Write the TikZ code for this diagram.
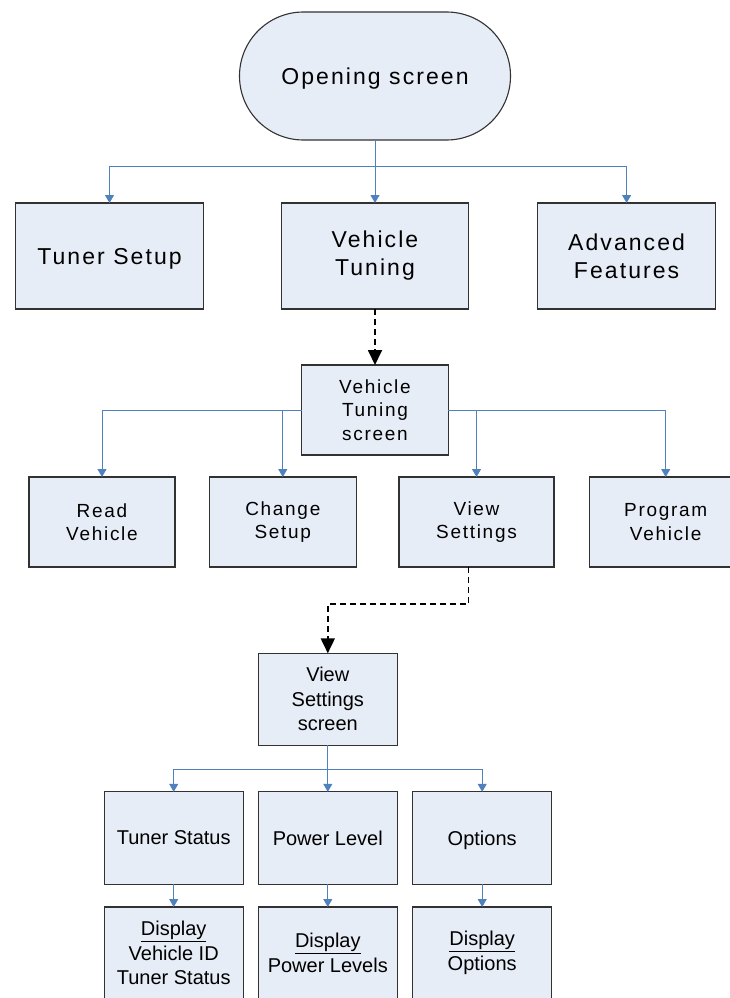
\documentclass[tikz,border=0pt]{standalone}
\usepackage{fontspec}
\setmainfont{Liberation Sans}
\newfontfamily\spaced[LetterSpace=9]{Liberation Sans}
\usetikzlibrary{arrows.meta}
\definecolor{boxfill}{RGB}{231,237,247}
\definecolor{conn}{RGB}{79,129,189}
\definecolor{edge}{RGB}{50,50,50}
\begin{document}
\begin{tikzpicture}[x=1pt,y=-1pt,
 box/.style={draw=edge,line width=1.1pt,fill=boxfill,align=center,inner sep=0pt,outer sep=0pt},
 oneline/.style={text depth=0pt},
 big/.style={font=\spaced\fontsize{23}{28}\selectfont},
 mid/.style={font=\spaced\fontsize{19}{23.3}\selectfont},
 small/.style={font=\fontsize{20}{24.5}\selectfont},
 link/.style={draw=conn,line width=0.9pt,-{Triangle[width=9pt,length=8pt]}},
 jump/.style={draw=black,line width=1.8pt,dash pattern=on 6pt off 4pt,-{Triangle[width=14pt,length=15pt]}}]
\useasboundingbox (0,0) rectangle (730,998);
\clip (0,0) rectangle (730,998);
% top level
\node[box,big,oneline,rounded corners=63.9pt,minimum width=271,minimum height=128] (os) at (375,76) {Opening screen};
\node[box,big,oneline,minimum width=188,minimum height=106] (ts) at (109.5,256) {Tuner Setup};
\node[box,big,minimum width=187,minimum height=106] (vt) at (375,256) {Vehicle\\Tuning};
\node[box,big,minimum width=178,minimum height=106] (af) at (626.6,256) {Advanced\\Features};
% second level
\node[box,mid,minimum width=146.4,minimum height=90] (vts) at (375,410) {Vehicle\\Tuning\\screen};
\node[box,mid,minimum width=146,minimum height=90] (rv) at (102,522) {Read\\Vehicle};
\node[box,mid,minimum width=146.5,minimum height=90] (cs) at (282.8,522) {Change\\Setup};
\node[box,mid,minimum width=155,minimum height=90] (vs) at (476.5,522) {View\\Settings};
\node[box,mid,minimum width=153,minimum height=90] (pv) at (665.7,522) {Program\\Vehicle};
% third level
\node[box,small,minimum width=139,minimum height=92] (vss) at (327.8,699.3) {View\\Settings\\screen};
\node[box,small,oneline,minimum width=139.3,minimum height=92.3] (tst) at (173.7,838) {Tuner Status};
\node[box,small,oneline,minimum width=139.3,minimum height=92.3] (pl) at (327.8,838) {Power Level};
\node[box,small,oneline,minimum width=139.3,minimum height=92.3] (op) at (482.2,838) {Options};
\node[box,small,minimum width=139.3,minimum height=92] (d1) at (173.7,953) {\underline{Display}\\Vehicle ID\\Tuner Status};
\node[box,small,minimum width=139.3,minimum height=92] (d2) at (327.8,953) {\underline{Display}\\Power Levels};
\node[box,small,minimum width=139.3,minimum height=92] (d3) at (482.2,953) {\underline{Display}\\Options};
% connectors
\draw[link] (os.south) -- ++(0,26) -| (ts.north);
\draw[link] (os.south) -- (vt.north);
\draw[link] (os.south) -- ++(0,26) -| (af.north);
\draw[jump] (vt.south) -- (vts.north);
\draw[link] (vts.west) -| (rv.north);
\draw[link] (vts.west) -| (cs.north);
\draw[link] (vts.east) -| (vs.north);
\draw[link] (vts.east) -| (pv.north);
\draw[jump] ([xshift=-8pt]vs.south) -- ++(0,37) -| (vss.north);
\draw[link] (vss.south) -- ++(0,24) -| (tst.north);
\draw[link] (vss.south) -- (pl.north);
\draw[link] (vss.south) -- ++(0,24) -| (op.north);
\draw[link] (tst.south) -- (d1.north);
\draw[link] (pl.south) -- (d2.north);
\draw[link] (op.south) -- (d3.north);
\end{tikzpicture}
\end{document}
